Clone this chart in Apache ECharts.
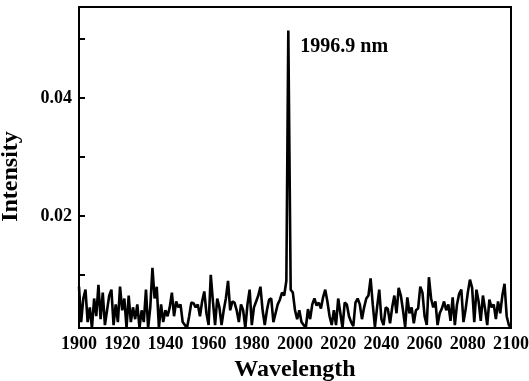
<!DOCTYPE html>
<html>
<head>
<meta charset="utf-8">
<script src="https://cdn.jsdelivr.net/npm/echarts@6.0.0/dist/echarts.min.js"></script>
<style>
    html, body { margin: 0; padding: 0; background: #fff; }
    #chart { width: 529px; height: 381px; }
</style>
</head>
<body>
<div id="chart"></div>
<script>
// spectrum sampled every 1 nm from 1900 to 2100, the 1997 sample sits at the peak (1996.9 nm)
const startWavelength = 1900;
const peakWavelength = 1996.9;
const peakIndex = 97;
const peakLabel = '1996.9 nm';

const intensity = [
    0.0080, 0.0020, 0.0060, 0.0075, 0.0020, 0.0045, 0.0010, 0.0060, 0.0030, 0.0083,
    0.0025, 0.0070, 0.0015, 0.0040, 0.0065, 0.0075, 0.0015, 0.0050, 0.0020, 0.0080,
    0.0040, 0.0060, 0.0010, 0.0065, 0.0020, 0.0045, 0.0025, 0.0050, 0.0010, 0.0040,
    0.0020, 0.0075, 0.0010, 0.0045, 0.0112, 0.0060, 0.0080, 0.0010, 0.0050, 0.0020,
    0.0040, 0.0030, 0.0045, 0.0070, 0.0030, 0.0055, 0.0045, 0.0050, 0.0020, 0.0015,
    0.0010, 0.0030, 0.0053, 0.0052, 0.0045, 0.0050, 0.0030, 0.0055, 0.0072, 0.0035,
    0.0015, 0.0100, 0.0055, 0.0015, 0.0060, 0.0045, 0.0015, 0.0040, 0.0060, 0.0090,
    0.0040, 0.0055, 0.0053, 0.0040, 0.0020, 0.0050, 0.0040, 0.0010, 0.0050, 0.0075,
    0.0015, 0.0045, 0.0055, 0.0065, 0.0080, 0.0040, 0.0015, 0.0040, 0.0058, 0.0060,
    0.0020, 0.0035, 0.0050, 0.0058, 0.0070, 0.0065, 0.0090, 0.0514, 0.0075, 0.0070,
    0.0040, 0.0025, 0.0040, 0.0020, 0.0015, 0.0010, 0.0042, 0.0025, 0.0050, 0.0060,
    0.0048, 0.0053, 0.0043, 0.0062, 0.0075, 0.0055, 0.0030, 0.0015, 0.0040, 0.0015,
    0.0060, 0.0035, 0.0010, 0.0053, 0.0050, 0.0030, 0.0020, 0.0013, 0.0053, 0.0060,
    0.0050, 0.0025, 0.0045, 0.0060, 0.0065, 0.0094, 0.0050, 0.0012, 0.0045, 0.0075,
    0.0025, 0.0015, 0.0045, 0.0042, 0.0018, 0.0045, 0.0065, 0.0035, 0.0078, 0.0065,
    0.0040, 0.0012, 0.0062, 0.0035, 0.0045, 0.0018, 0.0040, 0.0043, 0.0080, 0.0070,
    0.0030, 0.0015, 0.0096, 0.0060, 0.0045, 0.0055, 0.0015, 0.0035, 0.0043, 0.0055,
    0.0040, 0.0050, 0.0022, 0.0062, 0.0015, 0.0050, 0.0068, 0.0075, 0.0020, 0.0042,
    0.0070, 0.0092, 0.0078, 0.0020, 0.0075, 0.0055, 0.0022, 0.0065, 0.0042, 0.0015,
    0.0058, 0.0045, 0.0050, 0.0025, 0.0055, 0.0035, 0.0065, 0.0085, 0.0030, 0.0015,
    0.0010
];

const xTicks = [1900, 1920, 1940, 1960, 1980, 2000, 2020, 2040, 2060, 2080, 2100];
const yTickValues = [0.01, 0.02, 0.03, 0.04, 0.05];
const yLabelValues = [0.02, 0.04];

const wavelengths = intensity.map((v, i) => i === peakIndex ? peakWavelength : startWavelength + i);
const points = wavelengths.map((w, i) => [w, intensity[i]]);

const font = 'Liberation Serif';
const chart = echarts.init(document.getElementById('chart'));

const option = {
    animation: false,
    backgroundColor: '#fff',
    grid: {
        left: 79, right: 18, top: 7, bottom: 53,
        show: true,
        borderColor: '#000',
        borderWidth: 2,
        outerBoundsMode: 'none'
    },
    xAxis: {
        type: 'value',
        min: xTicks[0],
        max: xTicks[xTicks.length - 1],
        interval: 20,
        name: 'Wavelength',
        nameLocation: 'middle',
        nameGap: 28,
        nameTextStyle: { fontFamily: font, fontWeight: 'bold', fontSize: 24, color: '#000' },
        axisLine: { lineStyle: { color: '#000', width: 2 } },
        axisTick: { show: false },
        splitLine: { show: false },
        axisLabel: {
            fontFamily: font, fontWeight: 'bold', fontSize: 18, color: '#000', margin: 7,
            formatter: v => String(v)
        }
    },
    yAxis: {
        type: 'value',
        min: 0.001,
        max: 0.0554,
        name: 'Intensity',
        nameLocation: 'middle',
        nameGap: 56,
        nameTextStyle: { fontFamily: font, fontWeight: 'bold', fontSize: 24, color: '#000', padding: [0, 18, 0, 0] },
        axisLine: { lineStyle: { color: '#000', width: 2 } },
        axisTick: { inside: true, length: 6, lineStyle: { width: 2 }, customValues: yTickValues },
        splitLine: { show: false },
        axisLabel: {
            fontFamily: font, fontWeight: 'bold', fontSize: 18, color: '#000', margin: 7,
            customValues: yLabelValues,
            formatter: v => v.toFixed(2)
        }
    },
    series: [
        {
            type: 'line',
            data: points,
            showSymbol: false,
            clip: true,
            lineStyle: { color: '#000', width: 2.6 },
            markPoint: {
                symbol: 'circle',
                symbolSize: 0,
                silent: true,
                data: [{ coord: [peakWavelength, intensity[peakIndex]] }],
                label: {
                    show: true,
                    position: 'right',
                    distance: 0,
                    offset: [12, 16],
                    formatter: peakLabel,
                    fontFamily: font,
                    fontWeight: 'bold',
                    fontSize: 20,
                    color: '#000'
                }
            }
        }
    ]
};

chart.setOption(option);
</script>
</body>
</html>
